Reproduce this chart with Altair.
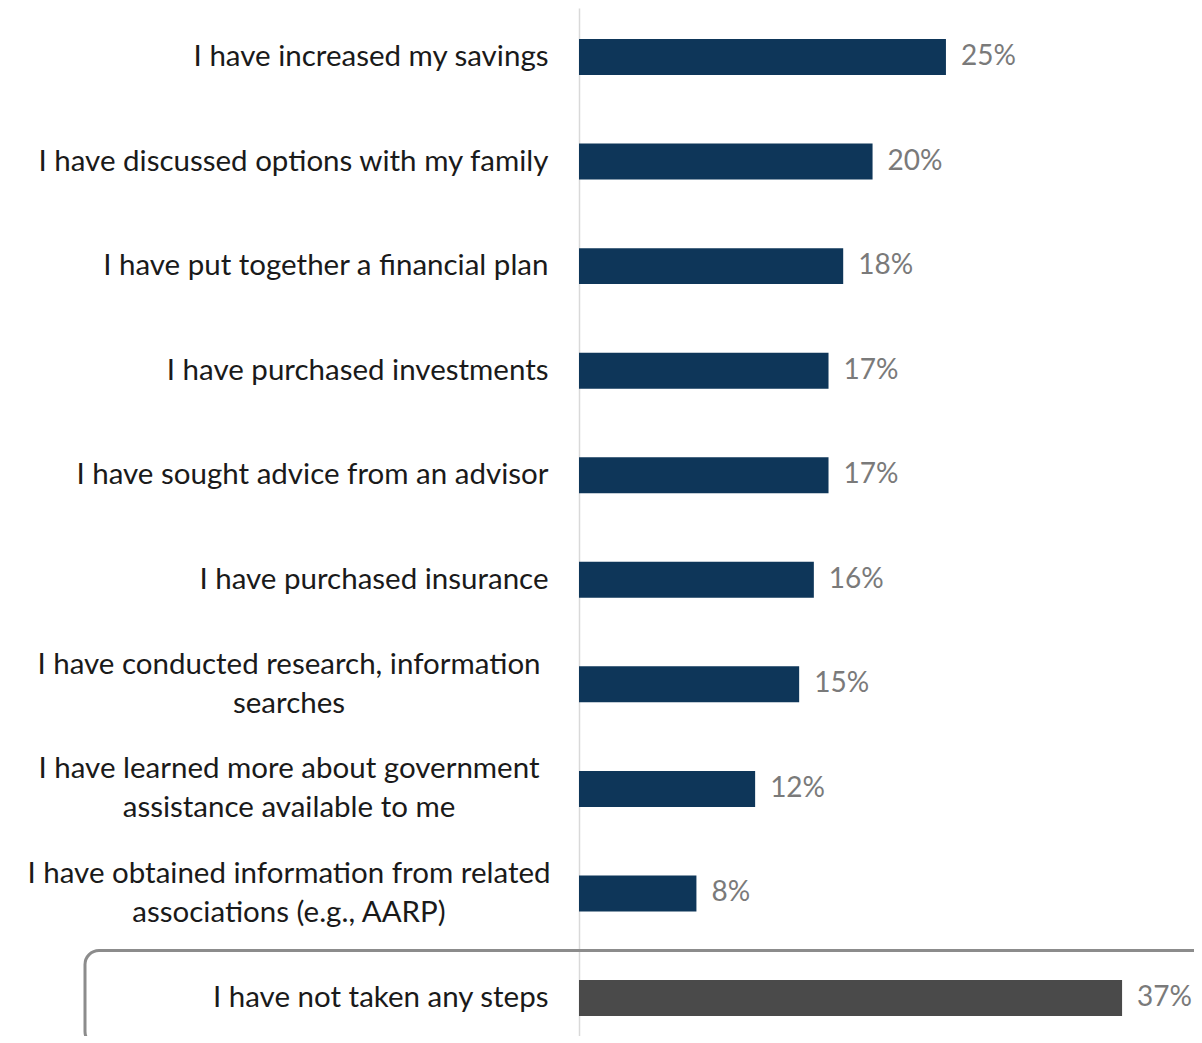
import altair as alt
import pandas as pd

categories = [
    "I have increased my savings",
    "I have discussed options with my family",
    "I have put together a financial plan",
    "I have purchased investments",
    "I have sought advice from an advisor",
    "I have purchased insurance",
    "I have conducted research, information|searches",
    "I have learned more about government|assistance available to me",
    "I have obtained information from related|associations (e.g., AARP)",
    "I have not taken any steps",
]
values = [25, 20, 18, 17, 17, 16, 15, 12, 8, 37]
highlight_category = "I have not taken any steps"

df = pd.DataFrame({"category": categories, "value": values})

FONT = "Lato"
FS = 29.5
VFS = 28
LH = 39

y_enc = alt.Y(
    "category:N",
    sort=categories,
    scale=alt.Scale(domain=categories, paddingInner=0.656, paddingOuter=0.244, align=0.608),
    axis=alt.Axis(
        title=None,
        ticks=False,
        grid=False,
        domainColor="#d9d9d9",
        domainWidth=1.5,
        labelFont=FONT,
        labelFontSize=FS,
        labelColor="#1a1a1a",
        labelPadding=31,
        labelAlign="right",
        labelBaseline="middle",
        labelLimit=600,
        labelExpr="indexof(datum.label, '|') >= 0 ? '' : datum.label",
    ),
)

x_scale = alt.Scale(domain=[0, 41.9], nice=False, zero=True)

base = alt.Chart(df)

box = base.transform_filter(
    alt.datum.category == highlight_category
).mark_bar(
    height=alt.RelativeBandSize(2.64),
    fill="transparent",
    stroke="#8c8c8c",
    strokeWidth=3,
    cornerRadius=14,
).encode(
    y=y_enc,
    x=alt.value(-494),
    x2=alt.value(660),
)

bars = base.transform_calculate(
    grp=f"datum.category == '{highlight_category}' ? 'none' : 'steps'"
).mark_bar().encode(
    y=y_enc,
    x=alt.X("value:Q", scale=x_scale, axis=None),
    color=alt.Color(
        "grp:N",
        scale=alt.Scale(domain=["steps", "none"], range=["#0e3659", "#4a4a4a"]),
        legend=None,
    ),
)

value_labels = base.transform_calculate(
    lbl="datum.value + '%'"
).mark_text(
    align="left", baseline="middle", dx=15, font=FONT, fontSize=VFS, color="#7a7a7a"
).encode(
    y=y_enc,
    x=alt.X("value:Q", scale=x_scale, axis=None),
    text="lbl:N",
)

multi_labels = base.transform_filter(
    "indexof(datum.category, '|') >= 0"
).transform_calculate(
    lines="split(datum.category, '|')"
).mark_text(
    align="center", baseline="middle", font=FONT, fontSize=FS, color="#1a1a1a",
    lineHeight=LH, dy=-LH / 2,
).encode(
    y=y_enc,
    x=alt.value(-290),
    text="lines:N",
)

chart = alt.layer(box, bars, value_labels, multi_labels).properties(
    width=615,
    height=1028,
    autosize=alt.AutoSizeParams(type="none"),
    padding={"left": 571, "top": 0, "right": 0, "bottom": 0},
    background="white",
).configure_view(stroke=None)

chart.save("out.html", embed_options={"renderer": "svg", "actions": False})
